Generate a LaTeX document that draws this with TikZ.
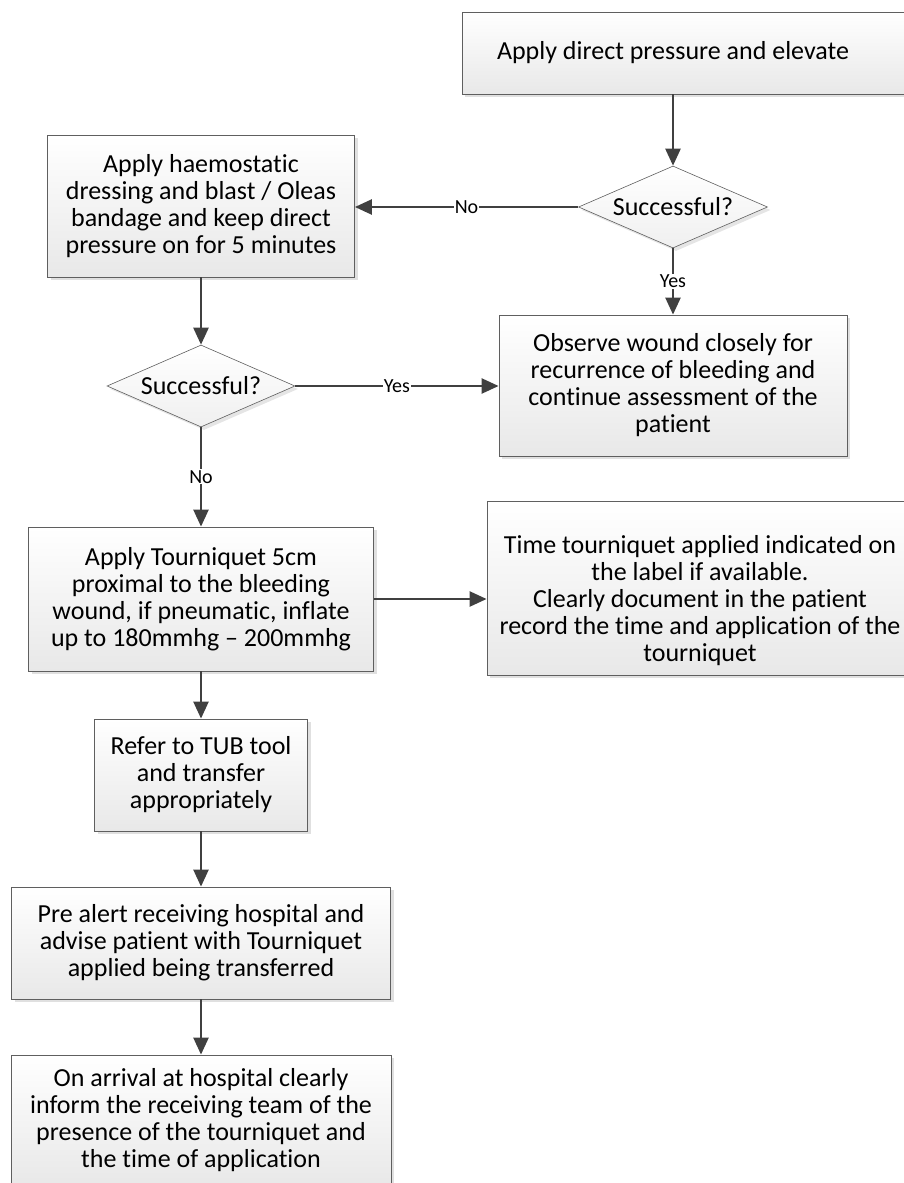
\documentclass[tikz,border=0pt]{standalone}
\usepackage{fontspec}
\setmainfont{Carlito}[Ligatures=NoCommon]
\usepackage{tikz}
\usetikzlibrary{shapes, arrows.meta, shadows}
\definecolor{rand}{RGB}{95, 95, 95}
\definecolor{pijl}{RGB}{64, 64, 64}
\tikzset{
    box/.style={draw=rand, rectangle, top color=white, bottom color=black!9, line width=0.8pt, align=center, inner sep=0pt, font=\fontsize{26}{27}\selectfont, drop shadow={shadow xshift=3pt, shadow yshift=-3pt, fill=black!12, opacity=1}},
    choice/.style={draw=rand, diamond, top color=white, bottom color=black!6, line width=0.6pt, inner sep=0pt, aspect=2.3, font=\fontsize{26}{27}\selectfont, drop shadow={shadow xshift=3pt, shadow yshift=-3pt, fill=black!10, opacity=1}},
    conn/.style={-{Triangle[length=17pt, width=15pt]}, pijl, line width=2.4pt},
    lbl/.style={fill=white, inner sep=1pt, text=black, font=\fontsize{20}{22}\selectfont},
}
\begin{document}
\begin{tikzpicture}[x=1pt, y=-1pt]
        \useasboundingbox (0,0) rectangle (904,1183);
        \clip (0,0) rectangle (904,1183);

        \node [box, minimum width=458, minimum height=82] (pressure) at (691,53) {\hspace*{-36pt}Apply direct pressure and elevate};
        \node [choice, minimum width=189, minimum height=82] (d1) at (673,207) {Successful?};
        \node [box, minimum width=307, minimum height=142] (dressing) at (201,206) {Apply haemostatic\\dressing and blast / Oleas\\bandage and keep direct\\pressure on for 5 minutes};
        \node [box, minimum width=348, minimum height=141] (observe) at (673,385.5) {Observe wound closely for\\recurrence of bleeding and\\continue assessment of the\\patient};
        \node [choice, minimum width=188, minimum height=82] (d2) at (201,386) {Successful?};
        \node [box, minimum width=345, minimum height=144] (tourniquet) at (201,599) {Apply Tourniquet 5cm\\proximal to the bleeding\\wound, if pneumatic, inflate\\up to 180mmhg – 200mmhg};
        \node [box, minimum width=426, minimum height=174] (record) at (700,588) {\rule{0pt}{43pt}Time tourniquet applied indicated on\\the label if available.\\Clearly document in the patient\\record the time and application of the\\tourniquet};
        \node [box, minimum width=213, minimum height=112] (tubtool) at (201,775) {Refer to TUB tool\\and transfer\\appropriately};
        \node [box, minimum width=379, minimum height=112] (prealert) at (201,943) {Pre alert receiving hospital and\\advise patient with Tourniquet\\applied being transferred};
        \node [box, minimum width=380, minimum height=131] (arrival) at (201,1120.5) {On arrival at hospital clearly\\inform the receiving team of the\\presence of the tourniquet and\\the time of application};

        \draw[conn] (pressure.south -| d1.north) -- (d1.north);
        \draw[conn] (d1.west) -- node[lbl] {No} (d1.west -| dressing.east);
        \draw[conn] (d1.south) -- node[lbl] {Yes} (observe.north);

        \draw[conn] (dressing.south) -- (d2.north);
        \draw[conn] (d2.east) -- node[lbl] {Yes} (d2.east -| observe.west);
        \draw[conn] (d2.south) -- node[lbl] {No} (tourniquet.north);

        \draw[conn] (tourniquet.east) -- (tourniquet.east -| record.west);
        \draw[conn] (tourniquet.south) -- (tubtool.north);
        \draw[conn] (tubtool.south) -- (prealert.north);
        \draw[conn] (prealert.south) -- (arrival.north);
\end{tikzpicture}
\end{document}
